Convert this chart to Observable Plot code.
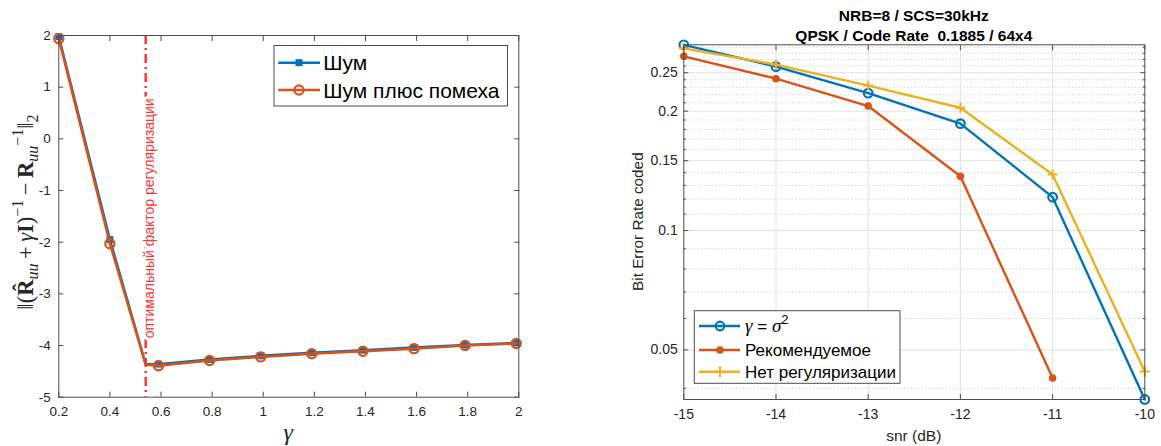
<!DOCTYPE html>
<html><head><meta charset="utf-8">
<script src="https://cdn.jsdelivr.net/npm/d3@7"></script>
<script src="https://cdn.jsdelivr.net/npm/@observablehq/plot@0.6"></script>
<style>
body{margin:0;background:#fff;}
#wrap{display:flex;width:1161px;height:446px;overflow:hidden;}
#wrap svg{display:block;flex:none;}
</style></head><body><div id="wrap"></div>
<script>
// ---------- Left panel data ----------
const gammaValues = [0.2, 0.4, 0.54, 0.59, 0.79, 0.99, 1.19, 1.39, 1.59, 1.79, 1.99];
const normNoise = [1.98, -1.95, -4.36, -4.36, -4.27, -4.20, -4.14, -4.09, -4.04, -3.99, -3.95];
const normNoiseInterf = [1.94, -2.03, -4.37, -4.39, -4.29, -4.22, -4.16, -4.11, -4.06, -4.00, -3.96];
const optimalGamma = 0.54;
const gammaTicks = [0.2, 0.4, 0.6, 0.8, 1, 1.2, 1.4, 1.6, 1.8, 2];
const normTicks = [-5, -4, -3, -2, -1, 0, 1, 2];
const leftSeries = ["Шум", "Шум плюс помеха"];
const optimalLabel = "оптимальный фактор регуляризации";

// ---------- Right panel data ----------
const snrValues = [-15, -14, -13, -12, -11, -10];
const berSigma = [0.294, 0.259, 0.222, 0.186, 0.1214, 0.0375];
const berRecommended = [0.275, 0.2415, 0.206, 0.137, 0.0425];
const berNoReg = [0.288, 0.262, 0.232, 0.204, 0.1384, 0.0441];
const berTicks = [0.05, 0.1, 0.15, 0.2, 0.25];
const berMinor = [0.04, 0.06, 0.07, 0.08, 0.09, 0.11, 0.12, 0.13, 0.14, 0.16, 0.17, 0.18, 0.19, 0.21, 0.22, 0.23, 0.24, 0.26, 0.27, 0.28, 0.29];
const snrTicks = [-15, -14, -13, -12, -11, -10];
const rightSeries = ["Рекомендуемое", "Нет регуляризации"];
const titleLines = ["NRB=8 / SCS=30kHz", "QPSK / Code Rate  0.1885 / 64x4"];
const rightYLabel = "Bit Error Rate coded";
const rightXLabel = "snr (dB)";

// ---------- styles ----------
const BLUE = "#0072BD", ORANGE = "#D95319", YELLOW = "#EDB120", RED = "#ff3535";
const AX = "#4d4d4d", TXT = "#262626";
const SANS = "'Liberation Sans', Arial, Helvetica, sans-serif";
const SERIF = "'Liberation Serif', 'DejaVu Serif', serif";

const wrap = document.getElementById("wrap");

// ================= LEFT =================
const leftData = gammaValues.map((g, i) => ({g, noise: normNoise[i], ni: normNoiseInterf[i]}));
const leftMarked = leftData.filter(d => d.g !== optimalGamma);
const left = Plot.plot({
  width: 580, height: 446,
  marginLeft: 58.3, marginRight: 61.7, marginTop: 35, marginBottom: 49.3,
  style: {fontFamily: SANS, fontSize: "13.5px", color: TXT, background: "white", overflow: "visible"},
  x: {domain: [0.2, 2], label: null},
  y: {domain: [-5, 2], label: null},
  marks: [
    Plot.ruleX([optimalGamma], {stroke: RED, strokeWidth: 2.5, strokeDasharray: "9,4,2,4"}),
    Plot.text([optimalGamma], {x: d => d, text: () => optimalLabel, rotate: -90, frameAnchor: "middle", dx: 4, dy: 2,
      fill: RED, fontSize: 14, stroke: "white", strokeWidth: 6}),
    Plot.line(leftData, {x: "g", y: "noise", stroke: BLUE, strokeWidth: 2.5}),
    Plot.dot(leftMarked, {x: "g", y: "noise", symbol: "square", fill: BLUE, r: 3.9}),
    Plot.line(leftData, {x: "g", y: "ni", stroke: ORANGE, strokeWidth: 2.5}),
    Plot.dot(leftMarked, {x: "g", y: "ni", r: 4.6, stroke: ORANGE, strokeWidth: 2.2, fill: "none"}),
    Plot.frame({stroke: AX, strokeWidth: 1}),
    Plot.axisX({ticks: gammaTicks, tickSize: 0, tickPadding: 9, tickFormat: d => String(d), label: null}),
    Plot.axisX({anchor: "bottom", ticks: gammaTicks, tickSize: -5, tickPadding: 0, tickFormat: () => "", stroke: AX, label: null}),
    Plot.axisX({anchor: "top", ticks: gammaTicks, tickSize: -5, tickPadding: 0, tickFormat: () => "", stroke: AX, label: null}),
    Plot.axisY({ticks: normTicks, tickSize: 0, tickPadding: 8, tickFormat: d => String(d), label: null}),
    Plot.axisY({anchor: "left", ticks: normTicks, tickSize: -5, tickPadding: 0, tickFormat: () => "", stroke: AX, label: null}),
    Plot.axisY({anchor: "right", ticks: normTicks, tickSize: -5, tickPadding: 0, tickFormat: () => "", stroke: AX, label: null})
  ]
});
wrap.appendChild(left);

{
  const svg = d3.select(left);
  // y label (math expression)
  const t = svg.append("text").attr("transform", "translate(33,212) rotate(-90)")
    .attr("text-anchor", "middle").attr("font-family", SERIF).attr("font-size", 22.5).attr("fill", TXT);
  const TS = "\u2009";
  const parts = [
    {s: "‖("}, {s: "R̂", b: 1}, {s: "uu", i: 1, sub: 1}, {s: TS + "+" + TS}, {s: "γ", i: 1}, {s: "I", b: 1}, {s: ")"},
    {s: "−1", sup: 1}, {s: TS + "−" + TS}, {s: "R", b: 1}, {s: "uu", i: 1, sub: 1}, {s: "−1", sup: 1}, {s: "‖"}, {s: "2", sub: 1}
  ];
  let cur = 0;
  for (const p of parts) {
    const target = p.sub ? 5 : p.sup ? -10 : 0;
    const ts = t.append("tspan").text(p.s).attr("dy", target - cur);
    cur = target;
    if (p.b) ts.attr("font-weight", "bold");
    if (p.i) ts.attr("font-style", "italic");
    if (p.sub || p.sup) ts.attr("font-size", 16);
  }
  // x label
  svg.append("text").attr("x", 288.3).attr("y", 440).attr("text-anchor", "middle")
    .attr("font-family", SERIF).attr("font-style", "italic").attr("font-size", 24).attr("fill", TXT).text("γ");
  // legend
  const lg = svg.append("g");
  lg.append("rect").attr("x", 274).attr("y", 45.5).attr("width", 233.5).attr("height", 60.5)
    .attr("fill", "white").attr("stroke", AX).attr("stroke-width", 1);
  const rows = [{y: 62.7, c: BLUE, m: "square"}, {y: 90, c: ORANGE, m: "circle"}];
  rows.forEach((r, i) => {
    lg.append("line").attr("x1", 278.3).attr("x2", 320).attr("y1", r.y).attr("y2", r.y)
      .attr("stroke", r.c).attr("stroke-width", 2.5);
    if (r.m === "square") lg.append("rect").attr("x", 299 - 3.5).attr("y", r.y - 3.5).attr("width", 7).attr("height", 7).attr("fill", r.c);
    else lg.append("circle").attr("cx", 299).attr("cy", r.y).attr("r", 4.6).attr("fill", "none").attr("stroke", r.c).attr("stroke-width", 2.2);
    lg.append("text").attr("x", 323.3).attr("y", r.y).attr("dy", "0.36em").attr("font-family", SANS)
      .attr("text-anchor", "start").attr("font-size", 21).attr("fill", "#000").text(leftSeries[i]);
  });
}

// ================= RIGHT =================
const sigmaData = snrValues.map((x, i) => ({x, y: berSigma[i]}));
const recData = berRecommended.map((y, i) => ({x: snrValues[i], y}));
const noRegData = snrValues.map((x, i) => ({x, y: berNoReg[i]}));
const yExtent = d3.extent([...berSigma, ...berRecommended, ...berNoReg]);
const right = Plot.plot({
  width: 581, height: 446,
  marginLeft: 103.3, marginRight: 16.7, marginTop: 44.3, marginBottom: 47,
  style: {fontFamily: SANS, fontSize: "14px", color: TXT, background: "white", overflow: "visible"},
  x: {domain: [-15, -10], label: null},
  y: {type: "log", domain: yExtent, label: null},
  marks: [
    Plot.ruleY(berMinor, {stroke: "#c9c9c9", strokeWidth: 0.8, strokeDasharray: "1.5,2"}),
    Plot.ruleY(berTicks, {stroke: "#e2e2e2", strokeWidth: 1}),
    Plot.ruleX(snrTicks.slice(1, -1), {stroke: "#e2e2e2", strokeWidth: 1}),
    Plot.line(sigmaData, {x: "x", y: "y", stroke: BLUE, strokeWidth: 2.4}),
    Plot.dot(sigmaData, {x: "x", y: "y", r: 4.3, stroke: BLUE, strokeWidth: 2.2, fill: "none"}),
    Plot.line(recData, {x: "x", y: "y", stroke: ORANGE, strokeWidth: 2.4}),
    Plot.dot(recData, {x: "x", y: "y", r: 3.8, fill: ORANGE}),
    Plot.line(noRegData, {x: "x", y: "y", stroke: YELLOW, strokeWidth: 2.4}),
    Plot.dot(noRegData, {x: "x", y: "y", r: 3.3, symbol: "plus", stroke: YELLOW, strokeWidth: 2}),
    Plot.frame({stroke: AX, strokeWidth: 1}),
    Plot.axisX({ticks: snrTicks, tickSize: 0, tickPadding: 10, tickFormat: d => String(d), label: null}),
    Plot.axisX({anchor: "bottom", ticks: snrTicks, tickSize: -5, tickPadding: 0, tickFormat: () => "", stroke: AX, label: null}),
    Plot.axisX({anchor: "top", ticks: snrTicks, tickSize: -5, tickPadding: 0, tickFormat: () => "", stroke: AX, label: null}),
    Plot.axisY({ticks: berTicks, tickSize: 0, tickPadding: 6, tickFormat: d => String(d), label: null}),
    Plot.axisY({anchor: "left", ticks: berTicks, tickSize: -5, tickPadding: 0, tickFormat: () => "", stroke: AX, label: null}),
    Plot.axisY({anchor: "right", ticks: berTicks, tickSize: -5, tickPadding: 0, tickFormat: () => "", stroke: AX, label: null}),
    Plot.axisY({anchor: "left", ticks: berMinor, tickSize: -2.5, tickPadding: 0, tickFormat: () => "", stroke: AX, label: null}),
    Plot.axisY({anchor: "right", ticks: berMinor, tickSize: -2.5, tickPadding: 0, tickFormat: () => "", stroke: AX, label: null})
  ]
});
wrap.appendChild(right);

{
  const svg = d3.select(right);
  const cx = (103.3 + (581 - 16.7)) / 2;
  titleLines.forEach((s, i) => {
    svg.append("text").attr("x", cx).attr("y", 21 + i * 19.7).attr("text-anchor", "middle")
      .attr("font-family", SANS).attr("font-weight", "bold").attr("font-size", 15.5)
      .attr("fill", "#000").style("white-space", "pre").text(s);
  });
  svg.append("text").attr("transform", `translate(63,${(44.3 + 399) / 2}) rotate(-90)`).attr("text-anchor", "middle")
    .attr("font-family", SANS).attr("font-size", 15.3).attr("fill", TXT).text(rightYLabel);
  svg.append("text").attr("x", cx).attr("y", 441).attr("text-anchor", "middle")
    .attr("font-family", SANS).attr("font-size", 15.5).attr("fill", TXT).text(rightXLabel);

  // legend
  const lg = svg.append("g");
  lg.append("rect").attr("x", 114.3).attr("y", 310.7).attr("width", 205.7).attr("height", 72.6)
    .attr("fill", "white").attr("stroke", AX).attr("stroke-width", 1);
  const rows = [{y: 326, c: BLUE}, {y: 350, c: ORANGE}, {y: 371.7, c: YELLOW}];
  rows.forEach((r, i) => {
    lg.append("line").attr("x1", 119).attr("x2", 160).attr("y1", r.y).attr("y2", r.y)
      .attr("stroke", r.c).attr("stroke-width", 2.4);
    if (i === 0) lg.append("circle").attr("cx", 140).attr("cy", r.y).attr("r", 4.3).attr("fill", "none").attr("stroke", r.c).attr("stroke-width", 2.2);
    if (i === 1) lg.append("circle").attr("cx", 140).attr("cy", r.y).attr("r", 3.8).attr("fill", r.c);
    if (i === 2) lg.append("path").attr("d", `M134.5,${r.y}H145.5M140,${r.y - 5.5}V${r.y + 5.5}`).attr("stroke", r.c).attr("stroke-width", 2).attr("fill", "none");
    const t = lg.append("text").attr("x", 165).attr("y", r.y).attr("dy", "0.36em").attr("text-anchor", "start")
      .attr("font-family", SANS).attr("font-size", 17).attr("fill", "#000");
    if (i === 0) {
      t.append("tspan").attr("font-family", SERIF).attr("font-style", "italic").attr("font-size", 19).text("γ");
      t.append("tspan").text(" = ");
      t.append("tspan").attr("font-family", SERIF).attr("font-style", "italic").attr("font-size", 19).text("σ");
      t.append("tspan").attr("font-size", 13).attr("dy", -8).text("2");
    } else {
      t.text(rightSeries[i - 1]);
    }
  });
}
</script></body></html>
